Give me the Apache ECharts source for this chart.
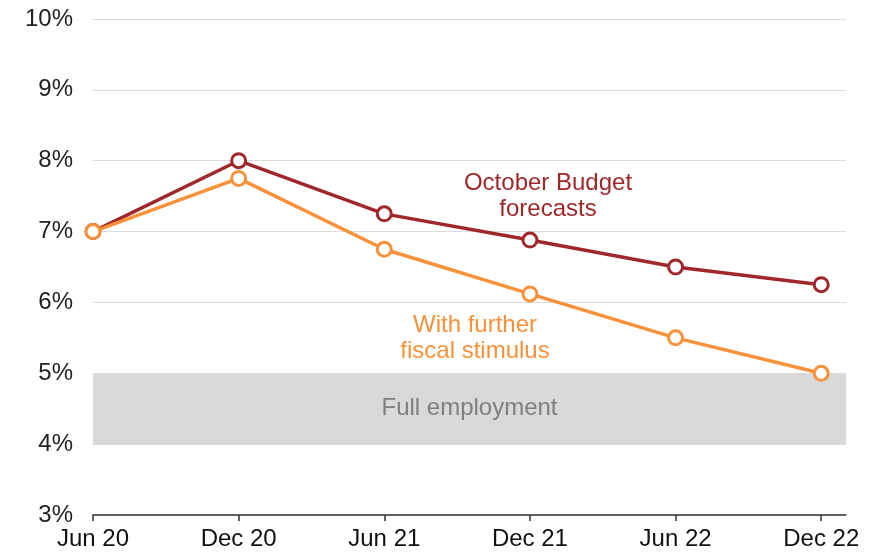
<!DOCTYPE html>
<html>
<head>
<meta charset="utf-8">
<script src="https://cdn.jsdelivr.net/npm/echarts@6/dist/echarts.min.js"></script>
<style>
html,body{margin:0;padding:0;background:#fff;}
#chart{width:881px;height:553px;}
</style>
</head>
<body>
<div id="chart"></div>
<script>
var categories = ['Jun 20', 'Dec 20', 'Jun 21', 'Dec 21', 'Jun 22', 'Dec 22'];
var budgetForecast = [7.0, 8.0, 7.25, 6.88, 6.5, 6.25];
var fiscalStimulus = [7.0, 7.75, 6.75, 6.12, 5.5, 5.0];
var yTicks = [3, 4, 5, 6, 7, 8, 9, 10];
var fullEmployment = [4, 5];

var FONT = '"Liberation Sans", Arial, sans-serif';
var FS = 24;
var RED = '#a0282b', ORANGE = '#f7923a';

// x as value axis so the plot extends a bit past Dec 22
function toPoints(arr) {
    var out = [];
    for (var i = 0; i < arr.length; i++) out.push([i, arr[i]]);
    return out;
}
var idx = categories.map(function (c, i) { return i; });

var chart = echarts.init(document.getElementById('chart'));
chart.setOption({
    animation: false,
    grid: {left: 93, right: 35, top: 19, bottom: 38, containLabel: false},
    xAxis: {
        type: 'value', min: 0, max: 5.17,
        axisLine: {show: true, lineStyle: {color: '#333', width: 1.5}},
        axisTick: {show: true, customValues: idx, length: 6, lineStyle: {color: '#333', width: 1.5}},
        axisLabel: {
            customValues: idx, margin: 12, color: '#111', fontSize: FS, fontFamily: FONT,
            formatter: function (v) { return categories[Math.round(v)]; }
        },
        splitLine: {show: false}
    },
    yAxis: {
        type: 'value', min: yTicks[0], max: yTicks[yTicks.length - 1], interval: 1,
        axisLine: {show: false}, axisTick: {show: false},
        axisLabel: {margin: 20, color: '#222', fontSize: FS, fontFamily: FONT, formatter: '{value}%'},
        splitLine: {lineStyle: {color: '#dcdcdc', width: 1.2}}
    },
    graphic: [
        {type: 'text', x: 548, y: 170, z: 10, style: {
            text: 'October Budget\nforecasts', fill: RED, font: FS + 'px ' + FONT,
            textAlign: 'center', lineHeight: 26
        }},
        {type: 'text', x: 475, y: 312, z: 10, style: {
            text: 'With further\nfiscal stimulus', fill: ORANGE, font: FS + 'px ' + FONT,
            textAlign: 'center', lineHeight: 26
        }}
    ],
    series: [
        {
            type: 'line', name: 'October Budget forecasts', data: toPoints(budgetForecast),
            symbol: 'circle', symbolSize: 14,
            lineStyle: {color: RED, width: 3.5},
            itemStyle: {color: '#fff', borderColor: RED, borderWidth: 3},
            z: 3,
            markArea: {
                silent: true, z: 1,
                itemStyle: {color: '#d9d9d9'},
                label: {show: true, position: 'inside', color: '#7f7f7f', fontSize: FS, fontFamily: FONT},
                data: [[{name: 'Full employment', yAxis: fullEmployment[0]}, {yAxis: fullEmployment[1]}]]
            }
        },
        {
            type: 'line', name: 'With further fiscal stimulus', data: toPoints(fiscalStimulus),
            symbol: 'circle', symbolSize: 14,
            lineStyle: {color: ORANGE, width: 3.5},
            itemStyle: {color: '#fff', borderColor: ORANGE, borderWidth: 3},
            z: 4
        }
    ]
});
</script>
</body>
</html>
